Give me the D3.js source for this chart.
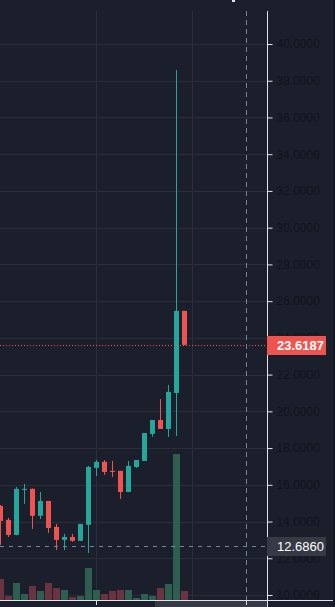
<!DOCTYPE html>
<html>
<head>
<meta charset="utf-8">
<script src="https://cdn.jsdelivr.net/npm/d3@7"></script>
<style>
  html, body { margin: 0; padding: 0; background: #1b1f2b; overflow: hidden; }
  svg { display: block; font-family: "Liberation Sans", Arial, sans-serif; }
</style>
</head>
<body>
<div id="chart"></div>
<script>
// candle data (oldest first)
var opens  = [14.85, 14.09, 13.27, 15.72, 15.78, 14.31, 15.12, 13.71, 13.00, 13.16, 12.95, 13.82,
              16.92, 17.25, 16.76, 16.76, 15.61, 16.97, 17.30, 18.77, 19.53, 19.04, 21.00, 25.47];
var highs  = [14.90, 14.20, 15.88, 16.05, 15.80, 15.61, 15.12, 13.87, 13.33, 13.33, 13.87, 17.03,
              17.35, 17.35, 17.30, 16.76, 17.30, 17.35, 18.82, 19.53, 20.67, 21.44, 38.58, 25.47];
var lows   = [12.73, 13.16, 13.25, 14.96, 13.60, 14.14, 13.38, 12.45, 12.45, 12.90, 12.95, 12.29,
              16.48, 16.54, 16.43, 15.23, 15.60, 16.92, 17.30, 18.61, 19.04, 18.61, 18.66, 23.60];
var closes = [14.03, 13.27, 15.78, 15.78, 14.31, 15.12, 13.65, 13.00, 13.16, 12.95, 13.87, 16.97,
              17.25, 16.70, 16.70, 15.61, 17.03, 17.35, 18.82, 19.53, 19.04, 21.06, 25.47, 23.6187];
var volumes = [2.1, 0.4, 1.7, 0.6, 1.4, 0.9, 1.7, 1.2, 1.0, 0.3, 0.4, 3.2,
               1.0, 0.6, 0.9, 1.0, 1.0, 0.2, 0.6, 0.4, 1.2, 1.6, 14.6, 0.9];

var priceTicks = [10, 12, 14, 16, 18, 20, 22, 24, 26, 28, 30, 32, 34, 36, 38, 40];
var lastPrice = 23.6187;
var crossPrice = 12.6860;
var crossIndex = 30.7;
var timeGridIdx = [12, 24];

var W = 335, H = 607,
    axisX = 267, plotTop = 11, plotBottom = 600;

var green = "#26a69a", red = "#ef5350";

var svg = d3.select("#chart").append("svg")
    .attr("width", W).attr("height", H);

svg.append("rect").attr("width", W).attr("height", H).attr("fill", "#1b1f2b");
svg.append("rect").attr("x", 333).attr("width", 2).attr("height", H).attr("fill", "#131722");

var x = d3.scaleLinear().domain([0, 1]).range([0.5, 8.5]);
var y = d3.scaleLinear().domain([10, 40]).range([595, 44]);
var yVol = d3.scaleLinear().domain([0, d3.max(volumes)]).range([plotBottom, 454]);

var fmt = d3.format(".4f");

svg.append("clipPath").attr("id", "plot")
  .append("rect").attr("x", 0).attr("y", plotTop).attr("width", axisX).attr("height", plotBottom - plotTop);

var plot = svg.append("g").attr("clip-path", "url(#plot)");

// grid
plot.selectAll("line.hgrid").data(priceTicks).enter().append("line")
  .attr("class", "hgrid")
  .attr("x1", 0).attr("x2", axisX)
  .attr("y1", function(d){ return Math.round(y(d)) + 0.5; })
  .attr("y2", function(d){ return Math.round(y(d)) + 0.5; })
  .attr("stroke", "#2a2e39");
plot.selectAll("line.vgrid").data(timeGridIdx).enter().append("line")
  .attr("class", "vgrid")
  .attr("x1", function(d){ return Math.round(x(d)) - 0.5; })
  .attr("x2", function(d){ return Math.round(x(d)) - 0.5; })
  .attr("y1", plotTop).attr("y2", plotBottom)
  .attr("stroke", "#2a2e39");

var idx = d3.range(opens.length);

// volume
plot.selectAll("rect.vol").data(idx).enter().append("rect")
  .attr("class", "vol")
  .attr("x", function(i){ return x(i) - 3.5; })
  .attr("width", 7)
  .attr("y", function(i){ return Math.round(yVol(volumes[i])); })
  .attr("height", function(i){ return plotBottom - Math.round(yVol(volumes[i])); })
  .attr("fill", function(i){ return closes[i] >= opens[i] ? "#2e5e50" : "#6a3342"; });

// candles
var c = plot.selectAll("g.candle").data(idx).enter().append("g").attr("class", "candle")
  .attr("fill", function(i){ return closes[i] >= opens[i] ? green : red; });
c.append("rect")
  .attr("x", function(i){ return x(i) - 0.5; })
  .attr("width", 1)
  .attr("y", function(i){ return y(highs[i]); })
  .attr("height", function(i){ return Math.max(1, y(lows[i]) - y(highs[i])); });
c.append("rect")
  .attr("x", function(i){ return x(i) - 2.5; })
  .attr("width", 5)
  .attr("y", function(i){ return y(Math.max(opens[i], closes[i])); })
  .attr("height", function(i){ return Math.max(1, Math.abs(y(opens[i]) - y(closes[i]))); });

// last price line
plot.append("line")
  .attr("x1", 0).attr("x2", axisX)
  .attr("y1", Math.round(y(lastPrice)) + 0.5).attr("y2", Math.round(y(lastPrice)) + 0.5)
  .attr("stroke", red).attr("stroke-dasharray", "1,2");

// crosshair
svg.append("line")
  .attr("x1", Math.round(x(crossIndex)) + 0.5).attr("x2", Math.round(x(crossIndex)) + 0.5)
  .attr("y1", plotTop).attr("y2", plotBottom)
  .attr("stroke", "#758696").attr("stroke-dasharray", "5,4");
svg.append("line")
  .attr("x1", 0).attr("x2", axisX)
  .attr("y1", Math.round(y(crossPrice)) + 0.5).attr("y2", Math.round(y(crossPrice)) + 0.5)
  .attr("stroke", "#758696").attr("stroke-dasharray", "4,5");

// x axis
svg.append("line").attr("x1", 0).attr("x2", 333)
  .attr("y1", plotBottom + 0.5).attr("y2", plotBottom + 0.5).attr("stroke", "#e0e3eb");
svg.append("line").attr("x1", Math.round(x(12)) - 0.5).attr("x2", Math.round(x(12)) - 0.5)
  .attr("y1", plotBottom).attr("y2", plotBottom + 5).attr("stroke", "#e0e3eb");
svg.append("rect").attr("x", 155).attr("y", plotBottom + 1).attr("width", axisX - 155).attr("height", 6)
  .attr("fill", "#363a45");
svg.append("line").attr("x1", Math.round(x(crossIndex)) + 0.5).attr("x2", Math.round(x(crossIndex)) + 0.5)
  .attr("y1", plotBottom).attr("y2", plotBottom + 5).attr("stroke", "#e0e3eb");
svg.append("rect").attr("x", 232).attr("y", 0).attr("width", 3).attr("height", 2).attr("fill", "#e0e3eb");

// price axis
var axis = svg.append("g")
  .attr("transform", "translate(" + (axisX + 0.5) + ",0)")
  .call(d3.axisRight(y).tickValues(priceTicks).tickFormat(fmt).tickSize(5).tickPadding(4));
axis.select(".domain").remove();
axis.selectAll(".tick line").attr("stroke", "#e0e3eb");
axis.selectAll(".tick text").attr("fill", "#11141b").style("font-size", "12px")
  .style("font-family", "'Liberation Sans', Arial, sans-serif");
svg.append("line").attr("x1", axisX + 0.5).attr("x2", axisX + 0.5)
  .attr("y1", plotTop).attr("y2", H).attr("stroke", "#e0e3eb");

// price labels
function priceLabel(v, bg, weight) {
  var g = svg.append("g").attr("transform", "translate(" + axisX + "," + Math.round(y(v)) + ")");
  g.append("rect").attr("x", 0).attr("y", -9).attr("width", 59).attr("height", 19).attr("fill", bg);
  g.append("text").attr("x", 10).attr("y", 5).attr("fill", "#ffffff")
    .style("font-size", "13px").style("font-weight", weight).text(fmt(v));
}
priceLabel(lastPrice, red, "bold");
priceLabel(crossPrice, "#363a45", "normal");
</script>
</body>
</html>
